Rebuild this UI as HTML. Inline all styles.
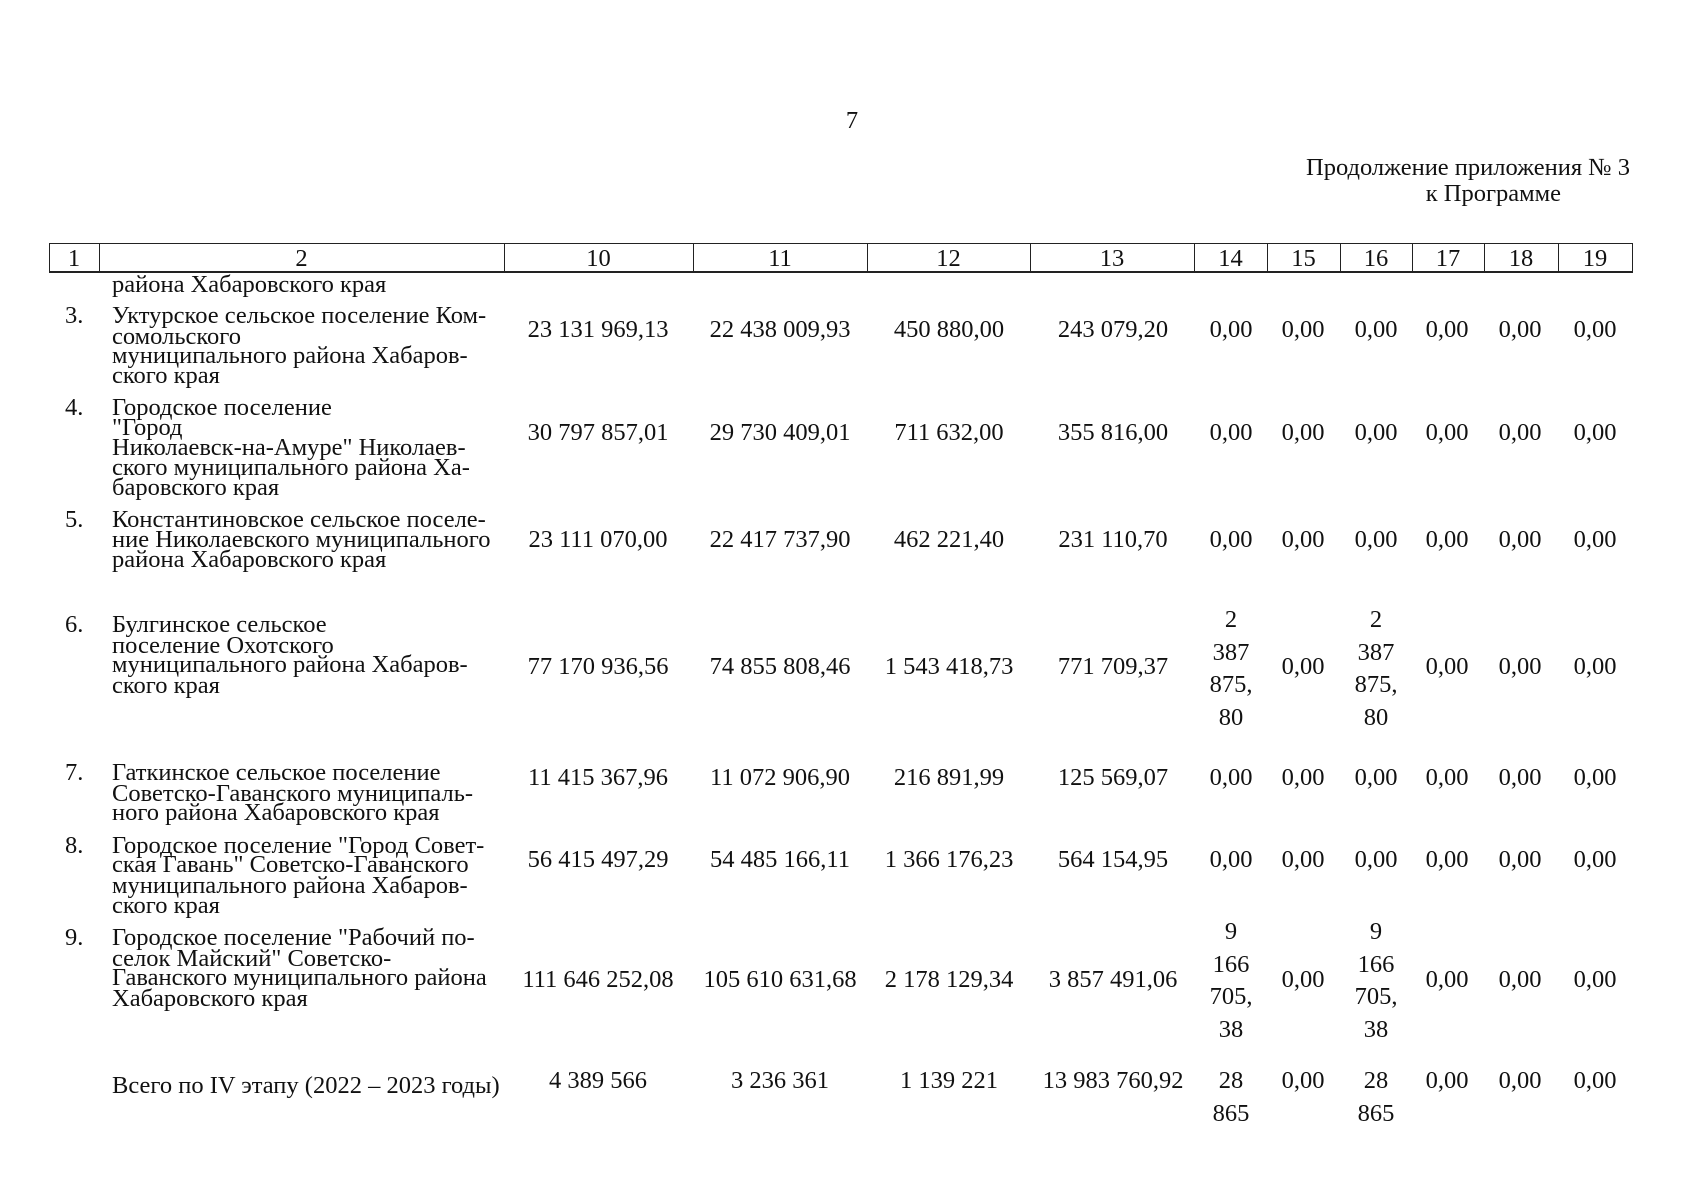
<!DOCTYPE html>
<html><head><meta charset="utf-8"><style>
body{margin:0;width:1699px;height:1200px;background:#fff;position:relative;overflow:hidden;font-family:"Liberation Serif","DejaVu Serif",serif;color:#111;}
.t{position:absolute;white-space:nowrap;font-size:24.5px;line-height:24px;}
.c{transform:translateX(-50%);}
.r{transform:translateX(-100%);}
.hl{position:absolute;background:#222;}
</style></head><body>
<div id="v"></div>
<script>
var h="";
function T(x,y,s,cls){h+='<div class="t '+(cls||'')+'" style="left:'+x+'px;top:'+(y-10)+'px">'+s+'</div>';}
function L(x,y,w,hh){h+='<div class="hl" style="left:'+x+'px;top:'+y+'px;width:'+w+'px;height:'+hh+'px"></div>';}
T(852,119,"7","c");
T(1630,166,"Продолжение приложения № 3","r");
T(1561,192,"к Программе","r");
var b=[49,99,504,693,867,1030,1194,1267,1340,1412,1484,1558,1632];
L(49,243,1584,1);L(49,271,1584,2);
b.forEach(function(x){L(x,243,1,30);});
var hd=["1","2","10","11","12","13","14","15","16","17","18","19"];
hd.forEach(function(s,i){T((b[i]+b[i+1])/2,257,s,"c");});
T(112,283,"района Хабаровского края");
var lab=[
["3.",[314,335,354,374],["Уктурское сельское поселение Ком-","сомольского","муниципального района Хабаров-","ского края"]],
["4.",[406,426,446,466,486],["Городское поселение","\"Город","Николаевск-на-Амуре\" Николаев-","ского муниципального района Ха-","баровского края"]],
["5.",[518,538,558],["Константиновское сельское поселе-","ние Николаевского муниципального","района Хабаровского края"]],
["6.",[623,644,663,684],["Булгинское сельское","поселение Охотского","муниципального района Хабаров-","ского края"]],
["7.",[771,792,811],["Гаткинское сельское поселение","Советско-Гаванского муниципаль-","ного района Хабаровского края"]],
["8.",[844,863,884,904],["Городское поселение \"Город Совет-","ская Гавань\" Советско-Гаванского","муниципального района Хабаров-","ского края"]],
["9.",[936,957,976,997],["Городское поселение \"Рабочий по-","селок Майский\" Советско-","Гаванского муниципального района","Хабаровского края"]]
];
lab.forEach(function(r){T(65,r[1][0],r[0]);r[2].forEach(function(s,k){T(112,r[1][k],s);});});
T(112,1084,"Всего по IV этапу (2022 – 2023 годы)");
var cols=[598,780,949,1113,1231,1303,1376,1447,1520,1595];
var rows=[
[328,["23 131 969,13","22 438 009,93","450 880,00","243 079,20","0,00","0,00","0,00","0,00","0,00","0,00"]],
[431,["30 797 857,01","29 730 409,01","711 632,00","355 816,00","0,00","0,00","0,00","0,00","0,00","0,00"]],
[538,["23 111 070,00","22 417 737,90","462 221,40","231 110,70","0,00","0,00","0,00","0,00","0,00","0,00"]],
[665,["77 170 936,56","74 855 808,46","1 543 418,73","771 709,37",["2","387","875,","80"],"0,00",["2","387","875,","80"],"0,00","0,00","0,00"],618],
[776,["11 415 367,96","11 072 906,90","216 891,99","125 569,07","0,00","0,00","0,00","0,00","0,00","0,00"]],
[858,["56 415 497,29","54 485 166,11","1 366 176,23","564 154,95","0,00","0,00","0,00","0,00","0,00","0,00"]],
[978,["111 646 252,08","105 610 631,68","2 178 129,34","3 857 491,06",["9","166","705,","38"],"0,00",["9","166","705,","38"],"0,00","0,00","0,00"],930],
[1079,["4 389 566","3 236 361","1 139 221","13 983 760,92",["28","865"],"0,00",["28","865"],"0,00","0,00","0,00"],1079]
];
rows.forEach(function(r){
 r[1].forEach(function(v,i){
  if(Array.isArray(v)){v.forEach(function(s,k){T(cols[i],r[2]+k*32.5,s,"c");});}
  else T(cols[i],r[0],v,"c");
 });
});
document.getElementById("v").innerHTML=h;
</script>
</body></html>
